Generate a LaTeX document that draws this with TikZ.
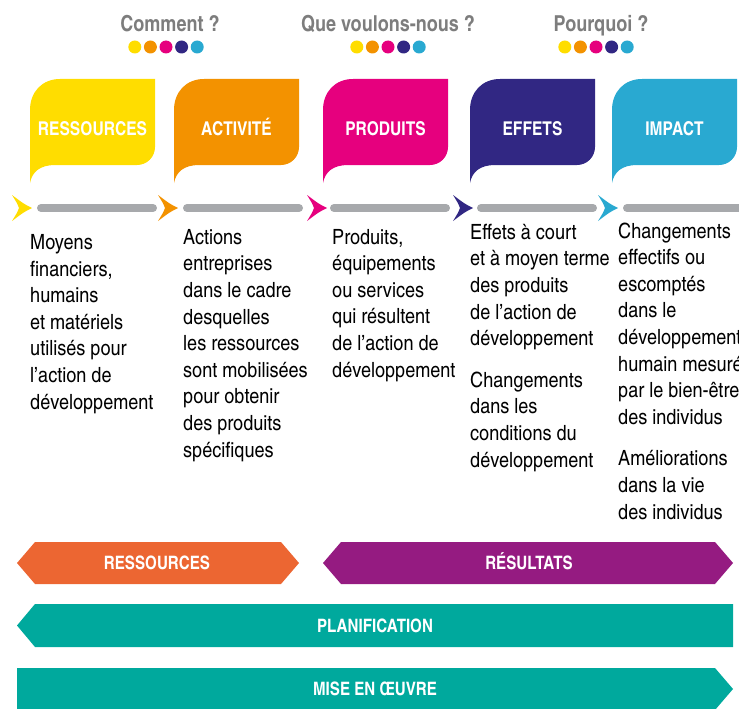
\documentclass[tikz,border=0pt]{standalone}
\usepackage{fontspec}
\setmainfont{texgyreheroscn}[Extension=.otf, UprightFont=*-regular, BoldFont=*-bold, ItalicFont=*-italic, BoldItalicFont=*-bolditalic]
\newfontfamily\corpsfont{texgyreheroscn}[Extension=.otf, UprightFont=*-regular, BoldFont=*-bold, FakeStretch=1.05, Ligatures=TeX]
\usetikzlibrary{positioning}

\definecolor{cJaune}{HTML}{FFDD00}
\definecolor{cOrange}{HTML}{F39200}
\definecolor{cRose}{HTML}{E6007E}
\definecolor{cViolet}{HTML}{312783}
\definecolor{cCyan}{HTML}{29A9D1}
\definecolor{cGris}{HTML}{A7A9AC}
\definecolor{cTitre}{HTML}{7D7D7D}
\definecolor{cBrique}{HTML}{EC6632}
\definecolor{cPourpre}{HTML}{951B81}
\definecolor{cVert}{HTML}{00A99D}

\tikzstyle{question} = [text=cTitre, anchor=base, font=\fontsize{22}{22}\selectfont\bfseries]
\tikzstyle{bulletitre} = [text=white, anchor=base, font=\fontsize{19}{19}\selectfont\bfseries]
\tikzstyle{corps} = [align=left, anchor=base west, inner sep=0pt, text=black, font=\corpsfont\fontsize{21}{26.6}\selectfont]
\tikzstyle{bandeau} = [text=white, anchor=base, font=\fontsize{18.5}{18.5}\selectfont\bfseries]
\tikzstyle{trait} = [draw=cGris, line width=8pt, line cap=round]

% bulle : x gauche, couleur, nom, titre
\newcommand{\bulle}[4]{%
  \fill[#2] (#1,183) -- (#1,110) .. controls (#1,92) and (#1+12,79) .. (#1+30,79)
    -- (#1+125,79) -- (#1+125,147) .. controls (#1+125,157) and (#1+117,165) .. (#1+107,165)
    -- (#1+25,165) .. controls (#1+10,165) and (#1+2,172) .. (#1,183) -- cycle;
  \node[bulletitre] (#3) at (#1+62.5,135) {#4};
}
% pointe de fleche : nom, couleur
\newcommand{\pointe}[2]{%
  \fill[#2, shift={(#1)}] (0,0) .. controls (-8,-4) .. (-20,-13) .. controls (-15,-5) .. (-13,0)
    .. controls (-15,5) .. (-20,13) .. controls (-8,4) .. (0,0) -- cycle;
}

\begin{document}
\begin{tikzpicture}[x=1pt,y=-1pt]
	\useasboundingbox (0,0) rectangle (739,709);

	% questions
	\node[question] (comment) at (170,31.5) {Comment ?};
	\node[question] (quoi) at (388,31.5) {Que voulons-nous ?};
	\node[question] (pourquoi) at (601,31.5) {Pourquoi ?};
	\foreach \m in {166,388,596}
		\foreach \c [count=\i] in {cJaune,cOrange,cRose,cViolet,cCyan}
			\fill[\c] (\m+15.6*\i-46.8,47) circle (6.5);

	% bulles
	\bulle{30}{cJaune}{ressources}{RESSOURCES}
	\bulle{174}{cOrange}{activite}{ACTIVITÉ}
	\bulle{323}{cRose}{produits}{PRODUITS}
	\bulle{470}{cViolet}{effets}{EFFETS}
	\bulle{612}{cCyan}{impact}{IMPACT}

	% ligne du temps
	\coordinate (f1) at (32,208);
	\coordinate (f2) at (178,208);
	\coordinate (f3) at (327,208);
	\coordinate (f4) at (473,208);
	\coordinate (f5) at (618,208);
	\coordinate (fin) at (760,208);
	\pointe{f1}{cJaune}
	\pointe{f2}{cOrange}
	\pointe{f3}{cRose}
	\pointe{f4}{cViolet}
	\pointe{f5}{cCyan}
	\draw[trait] ([xshift=9pt]f1) -- ([xshift=-25pt]f2);
	\draw[trait] ([xshift=9pt]f2) -- ([xshift=-28pt]f3);
	\draw[trait] ([xshift=7pt]f3) -- ([xshift=-27pt]f4);
	\draw[trait] ([xshift=8pt]f4) -- ([xshift=-25pt]f5);
	\draw[trait] ([xshift=9pt]f5) -- (fin);

	% textes (ancre sur la derniere ligne)
	\node[corps] (t1) at (30,409) {Moyens\\financiers,\\humains\\et matériels\\utilisés pour\\l’action de\\développement};
	\node[corps] (t2) at (183,457) {Actions\\entreprises\\dans le cadre\\desquelles\\les ressources\\sont mobilisées\\pour obtenir\\des produits\\spécifiques};
	\node[corps] (t3) at (332,377) {Produits,\\équipements\\ou services\\qui résultent\\de l’action de\\développement};
	\node[corps] (t4) at (470,467) {Effets à court\\et à moyen terme\\des produits\\de l’action de\\développement\\[15pt]Changements\\dans les\\conditions du\\développement};
	\node[corps] (t5) at (618,519) {Changements\\effectifs ou\\escomptés\\dans le\\développement\\humain mesuré\\par le bien-être\\des individus\\[15pt]Améliorations\\dans la vie\\des individus};

	% bandeaux
	\fill[cBrique] (17,563) -- (35,542) -- (281,542) -- (299,563) -- (281,584) -- (35,584) -- cycle;
	\node[bandeau] (bres) at (157,569.5) {RESSOURCES};
	\fill[cPourpre] (323,563) -- (341,542) -- (715,542) -- (733,563) -- (715,584) -- (341,584) -- cycle;
	\node[bandeau] (bresult) at (529,569.5) {RÉSULTATS};
	\fill[cVert] (17,625.5) -- (35,604) -- (733,604) -- (733,647) -- (35,647) -- cycle;
	\node[bandeau] (bplan) at (375,632.5) {PLANIFICATION};
	\fill[cVert] (17,668) -- (715,668) -- (733,689) -- (715,710) -- (17,710) -- cycle;
	\node[bandeau] (bmise) at (375,695) {MISE EN ŒUVRE};
\end{tikzpicture}
\end{document}
